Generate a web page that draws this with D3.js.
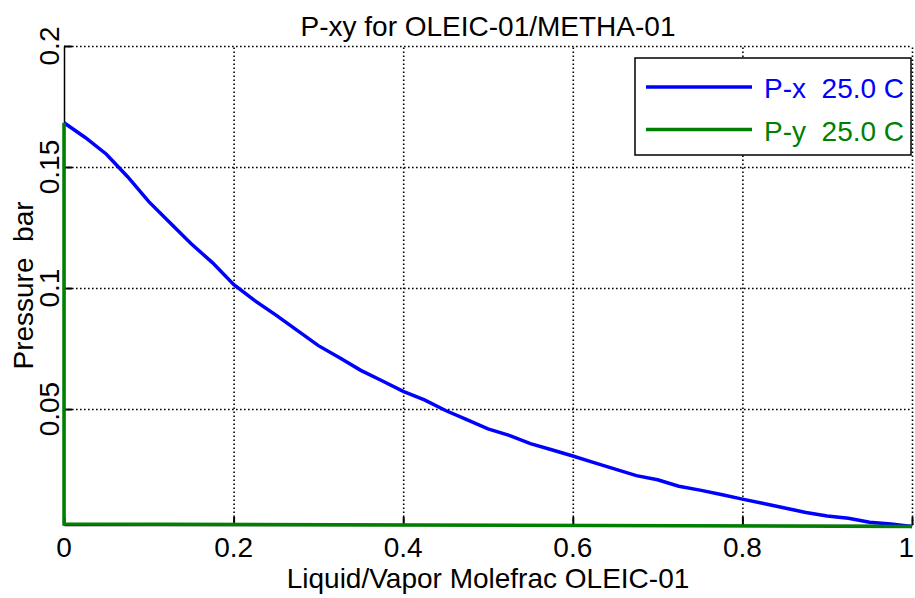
<!DOCTYPE html>
<html>
<head>
<meta charset="utf-8">
<script src="https://cdn.jsdelivr.net/npm/d3@7"></script>
<style>
    body { margin: 0; background: #fff; }
    text { font-family: "Liberation Sans", Arial, sans-serif; }
</style>
</head>
<body>
<script>
// liquid mole fraction OLEIC-01
var liquidX = [0, 0.025, 0.05, 0.075, 0.1, 0.125, 0.15, 0.175, 0.2, 0.225,
    0.25, 0.275, 0.3, 0.325, 0.35, 0.375, 0.4, 0.425, 0.45, 0.475,
    0.5, 0.525, 0.55, 0.575, 0.6, 0.625, 0.65, 0.675, 0.7, 0.725,
    0.75, 0.775, 0.8, 0.825, 0.85, 0.875, 0.9, 0.925, 0.95, 0.975, 1];

// vapor mole fraction OLEIC-01 (oleic acid is practically non volatile)
var vaporY = [0, 0, 0, 0, 0, 0, 0, 0, 0, 0,
    0, 0, 0, 0, 0, 0, 0, 0, 0, 0,
    0, 0, 0, 0, 0, 0, 0, 0, 0, 0,
    0, 0, 0, 0, 0, 0, 0, 0, 0, 0, 1];

// pressure, bar at 25.0 C
var pressure = [0.1683, 0.1622, 0.1553, 0.146, 0.1357, 0.127, 0.1183, 0.1105, 0.1015, 0.0948,
    0.0888, 0.0825, 0.0762, 0.0712, 0.066, 0.0617, 0.0573, 0.0538, 0.0494, 0.0456,
    0.0418, 0.0391, 0.0357, 0.0332, 0.0306, 0.0279, 0.0252, 0.0225, 0.0208, 0.0181,
    0.0165, 0.0147, 0.0128, 0.011, 0.0091, 0.0073, 0.0058, 0.0049, 0.0032, 0.0025, 0.0015];

var xTicks = [0, 0.2, 0.4, 0.6, 0.8, 1];
var yTicks = [0.05, 0.1, 0.15, 0.2];
var yDomain = [0.0021, 0.2];

var seriesNames = ["P-x  25.0 C", "P-y  25.0 C"];
var seriesColors = ["#0000ff", "#008000"];

var plot = { left: 64, right: 912, top: 46, bottom: 525 },
    W = 915, H = 598;

var xScale = d3.scaleLinear().domain([0, 1]).range([plot.left, plot.right]);
var yScale = d3.scaleLinear().domain(yDomain).range([plot.bottom, plot.top]);

var svg = d3.select("body").append("svg")
    .attr("width", W)
    .attr("height", H);

// gridlines (dotted)
svg.append("g")
    .attr("class", "grid")
    .attr("transform", "translate(0," + plot.bottom + ")")
    .call(d3.axisBottom(xScale).tickValues(xTicks.slice(1)).tickSize(-(plot.bottom - plot.top)).tickFormat(""))
    .call(function (g) { g.select(".domain").remove(); });

svg.append("g")
    .attr("class", "grid")
    .attr("transform", "translate(" + plot.left + ",0)")
    .call(d3.axisLeft(yScale).tickValues(yTicks).tickSize(-(plot.right - plot.left)).tickFormat(""))
    .call(function (g) { g.select(".domain").remove(); });

svg.selectAll(".grid line")
    .attr("stroke", "#000")
    .attr("stroke-width", 1.6)
    .attr("stroke-dasharray", "1.6,2.4");

// axes lines + inward ticks
var xAxis = svg.append("g")
    .attr("transform", "translate(0," + plot.bottom + ")")
    .call(d3.axisBottom(xScale).tickValues(xTicks).tickSize(-8).tickSizeOuter(0).tickFormat(""));
var yAxis = svg.append("g")
    .attr("transform", "translate(" + plot.left + ",0)")
    .call(d3.axisLeft(yScale).tickValues(yTicks).tickSize(-8).tickSizeOuter(0).tickFormat(""));

svg.selectAll(".domain").attr("stroke", "#000").attr("stroke-width", 1.5);
xAxis.selectAll(".tick line").attr("stroke", "#000").attr("stroke-width", 2);
yAxis.selectAll(".tick line").attr("stroke", "#000").attr("stroke-width", 2);

// tick labels (last one kept inside the page)
svg.selectAll(".xlab")
    .data(xTicks)
    .enter().append("text")
    .attr("x", function (d) { return d === 1 ? W - 1 : xScale(d); })
    .attr("y", 557)
    .attr("text-anchor", function (d) { return d === 1 ? "end" : "middle"; })
    .style("font-size", "28px")
    .text(function (d) { return d; });

svg.selectAll(".ylab")
    .data(yTicks)
    .enter().append("text")
    .attr("transform", function (d) { return "translate(59," + yScale(d) + ") rotate(-90)"; })
    .attr("text-anchor", "middle")
    .style("font-size", "28px")
    .text(function (d) { return d; });

// curves
var line = d3.line()
    .x(function (d) { return xScale(d[0]); })
    .y(function (d) { return yScale(d[1]); });

var pxData = liquidX.map(function (x, i) { return [x, pressure[i]]; });
var pyData = vaporY.map(function (y, i) { return [y, pressure[i]]; });

svg.append("path")
    .datum(pxData)
    .attr("fill", "none")
    .attr("stroke", seriesColors[0])
    .attr("stroke-width", 3.5)
    .attr("d", line);

svg.append("path")
    .datum(pyData)
    .attr("fill", "none")
    .attr("stroke", seriesColors[1])
    .attr("stroke-width", 3.5)
    .attr("d", line);

// title and axis labels
svg.append("text")
    .attr("x", (plot.left + plot.right) / 2)
    .attr("y", 36)
    .attr("text-anchor", "middle")
    .style("font-size", "28px")
    .text("P-xy for OLEIC-01/METHA-01");

svg.append("text")
    .attr("x", (plot.left + plot.right) / 2)
    .attr("y", 588)
    .attr("text-anchor", "middle")
    .style("font-size", "28px")
    .text("Liquid/Vapor Molefrac OLEIC-01");

svg.append("text")
    .attr("transform", "translate(33," + ((plot.top + plot.bottom) / 2) + ") rotate(-90)")
    .attr("text-anchor", "middle")
    .style("font-size", "28px")
    .style("white-space", "pre")
    .text("Pressure  bar");

// legend
var legend = svg.append("g");
legend.append("rect")
    .attr("x", 635)
    .attr("y", 58)
    .attr("width", 276)
    .attr("height", 97)
    .attr("fill", "#fff")
    .attr("stroke", "#000")
    .attr("stroke-width", 1.5);

var rows = legend.selectAll(".row")
    .data(seriesNames)
    .enter().append("g")
    .attr("transform", function (d, i) { return "translate(0," + (87 + i * 42.5) + ")"; });

rows.append("line")
    .attr("x1", 646)
    .attr("x2", 752)
    .attr("stroke", function (d, i) { return seriesColors[i]; })
    .attr("stroke-width", 3.5);

rows.append("text")
    .attr("x", 764)
    .attr("y", 11)
    .attr("fill", function (d, i) { return seriesColors[i]; })
    .style("font-size", "28px")
    .style("white-space", "pre")
    .text(function (d) { return d; });
</script>
</body>
</html>
